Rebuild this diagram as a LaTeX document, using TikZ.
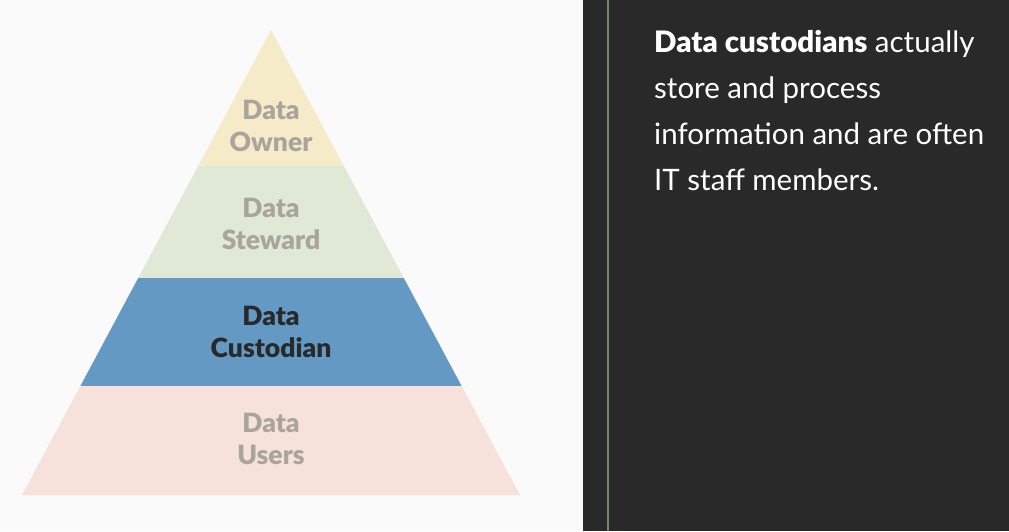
\documentclass[tikz,border=0pt]{standalone}
\usepackage{fontspec}
\setmainfont{Lato}
\newfontfamily\heavyfont{Lato Black}
\definecolor{ownerfill}{HTML}{F5EBC9}
\definecolor{stewardfill}{HTML}{DFE9D6}
\definecolor{custodianfill}{HTML}{6399C2}
\definecolor{usersfill}{HTML}{F6E2DA}
\definecolor{labelgray}{HTML}{A9A59C}
\definecolor{panel}{HTML}{292929}
\definecolor{panelline}{HTML}{6A8A6A}
\tikzstyle{layer}=[font=\heavyfont\fontsize{26.5}{31.5}\selectfont, align=center, text=labelgray]
\tikzstyle{blurb}=[font=\fontsize{29.5}{46}\selectfont, align=left, text=white, anchor=north west, inner sep=0pt]

\begin{document}
\begin{tikzpicture}[x=1pt,y=-1pt]
				\useasboundingbox (0,0) rectangle (1009,531);
				\fill[white!98!black] (0,0) rectangle (583,531);
				\fill[panel] (583,0) rectangle (1009,531);
				\draw[panelline, line width=1.5pt] (608,0) -- (608,531);
				% pyramid bands
				\fill[ownerfill] (271,30) -- (343.8,166) -- (198.2,166) -- cycle;
				\fill[stewardfill] (198.2,166) -- (343.8,166) -- (403.8,278) -- (138.2,278) -- cycle;
				\fill[custodianfill] (138.2,278) -- (403.8,278) -- (461.6,386) -- (80.4,386) -- cycle;
				\fill[usersfill] (80.4,386) -- (461.6,386) -- (520,495) -- (22,495) -- cycle;
				\node[layer] (owner) at (271,126) {Data\\Owner};
				\node[layer] (steward) at (271,224) {Data\\Steward};
				\node[layer, text=panel] (custodian) at (271,332) {Data\\Custodian};
				\node[layer] (users) at (271,439) {Data\\Users};
				\node[blurb] (note) at (654,30) {{\heavyfont Data custodians} actually\\store and process\\information and are often\\IT staff members.};
			\end{tikzpicture}
\end{document}
